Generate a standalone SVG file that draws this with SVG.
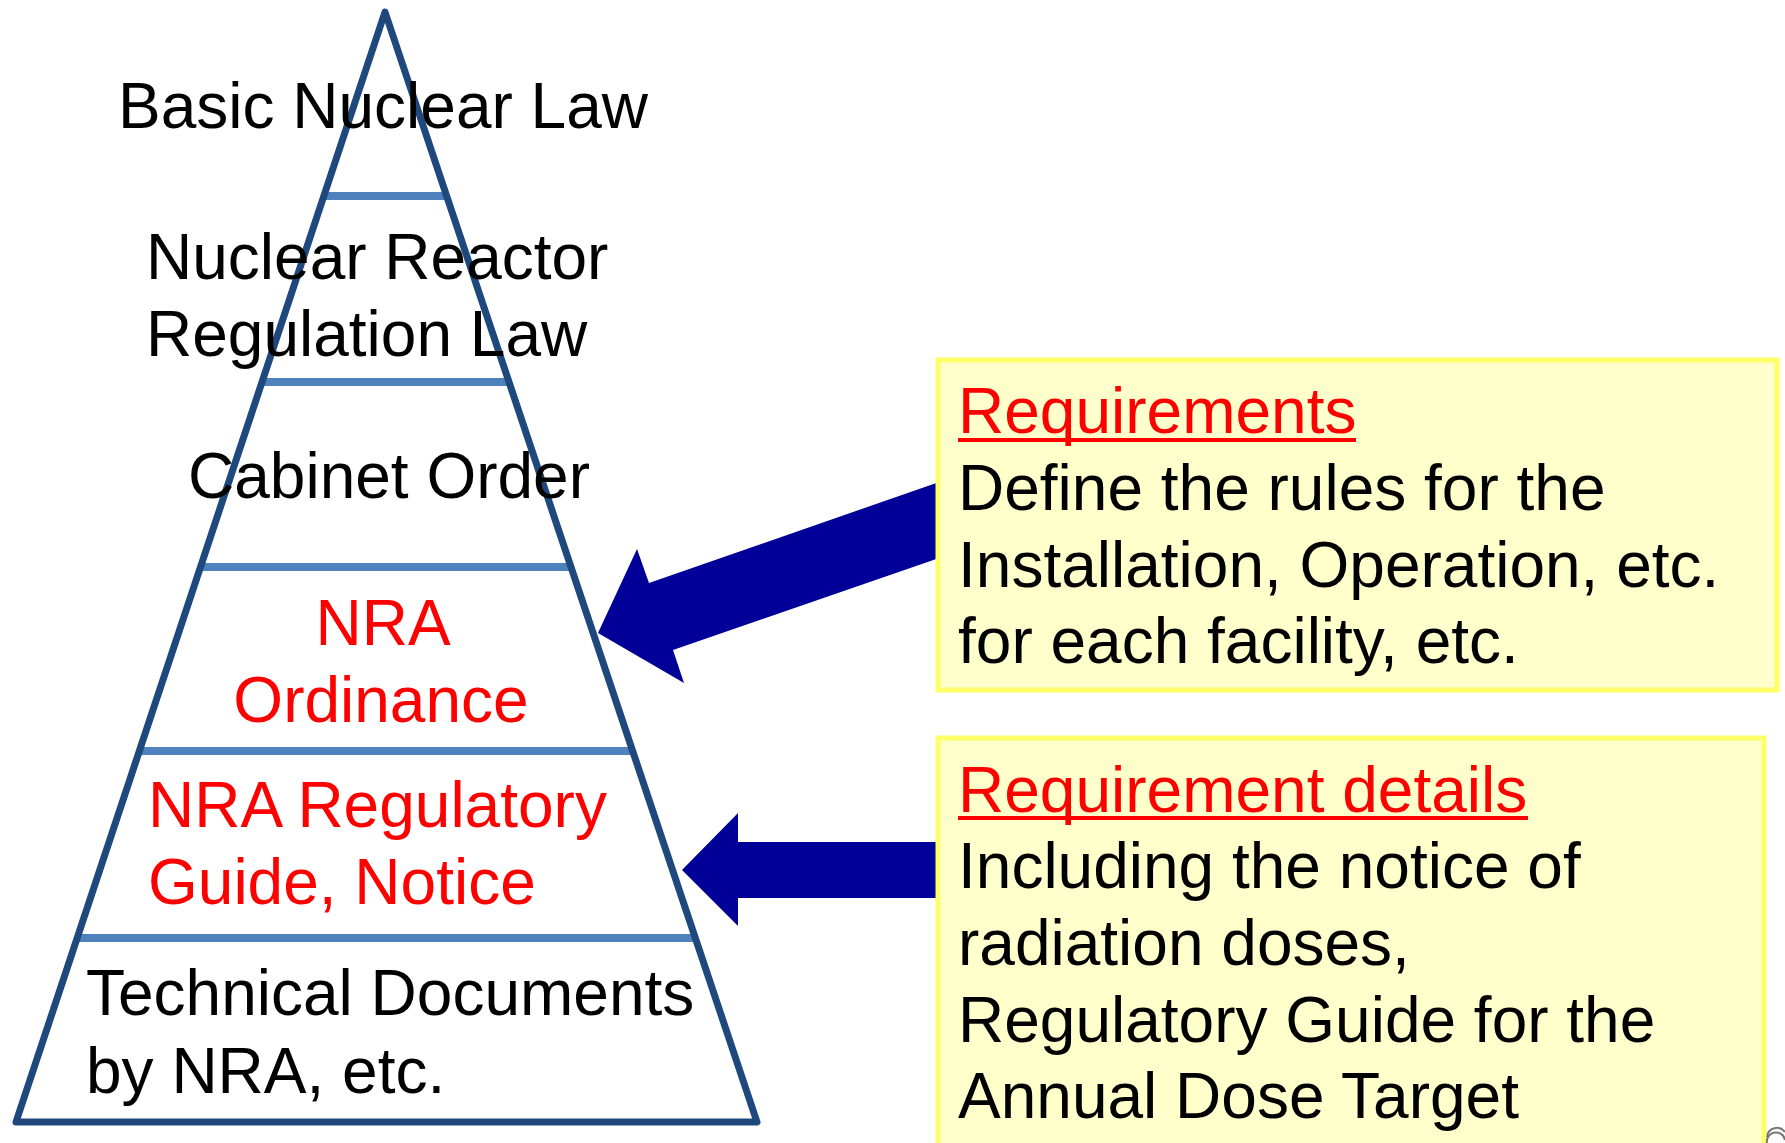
<svg xmlns="http://www.w3.org/2000/svg" width="1785" height="1143" viewBox="0 0 1785 1143">
<style>
text{font-family:"Liberation Sans",Arial,sans-serif;font-size:64px}
.k{fill:#000}
.r{fill:#FF0000}
.div{stroke:#4F81BD;stroke-width:8;fill:none}
.tri{stroke:#1F497D;stroke-width:7;fill:none;stroke-linejoin:round;stroke-linecap:round}
.box{fill:#FFFFCC;stroke:#FFFF66;stroke-width:5}
.arrow{fill:#000099}
.ul{stroke:#FF0000;stroke-width:4}
</style>
<rect width="1785" height="1143" fill="#fff"/>
<g id="connectors">
<polygon class="arrow" points="598,633 637,549 649,583 945,480 945,556 673,650 684,683"/>
<polygon class="arrow" points="682,870 738,813 738,842 945,842 945,898 738,898 738,926"/>
</g>
<g id="pyramid">
<line class="div" x1="323" y1="196" x2="447" y2="196"/>
<line class="div" x1="261" y1="382" x2="510" y2="382"/>
<line class="div" x1="200" y1="567" x2="572" y2="567"/>
<line class="div" x1="139" y1="751" x2="634" y2="751"/>
<line class="div" x1="77" y1="938" x2="696" y2="938"/>
<polygon class="tri" points="385,12 757,1122 16,1122"/>
</g>
<g id="basic-nuclear-law"><text class="k" x="383" y="128" text-anchor="middle">Basic Nuclear Law</text></g>
<g id="reactor-regulation-law">
<text class="k" x="146" y="279">Nuclear Reactor</text>
<text class="k" x="146" y="356">Regulation Law</text>
</g>
<g id="cabinet-order"><text class="k" x="389" y="498" text-anchor="middle">Cabinet Order</text></g>
<g id="nra-ordinance">
<text class="r" x="383" y="645" text-anchor="middle">NRA</text>
<text class="r" x="381" y="722" text-anchor="middle">Ordinance</text>
</g>
<g id="nra-guide">
<text class="r" x="148" y="827">NRA Regulatory</text>
<text class="r" x="148" y="904">Guide, Notice</text>
</g>
<g id="technical-documents">
<text class="k" x="86" y="1015">Technical Documents</text>
<text class="k" x="86" y="1093">by NRA, etc.</text>
</g>
<g id="requirements-box">
<rect class="box" x="938" y="360" width="839" height="330"/>
<text class="r" x="958" y="433">Requirements</text>
<line class="ul" x1="958" y1="440" x2="1356" y2="440"/>
<text class="k" x="958" y="510">Define the rules for the</text>
<text class="k" x="958" y="587">Installation, Operation, etc.</text>
<text class="k" x="958" y="663">for each facility, etc.</text>
</g>
<g id="details-box">
<rect class="box" x="938" y="738" width="826" height="420"/>
<text class="r" x="958" y="812">Requirement details</text>
<line class="ul" x1="958" y1="818" x2="1528" y2="818"/>
<text class="k" x="958" y="888">Including the notice of</text>
<text class="k" x="958" y="965">radiation doses,</text>
<text class="k" x="958" y="1042">Regulatory Guide for the</text>
<text class="k" x="958" y="1118">Annual Dose Target</text>
</g>
<g id="corner-mark" fill="none" stroke="#777" stroke-width="2">
<path d="M1767,1143 A9,9 0 0 1 1785,1140"/>
<path d="M1767,1137 A10,10 0 0 1 1785,1132"/>
</g>
</svg>
